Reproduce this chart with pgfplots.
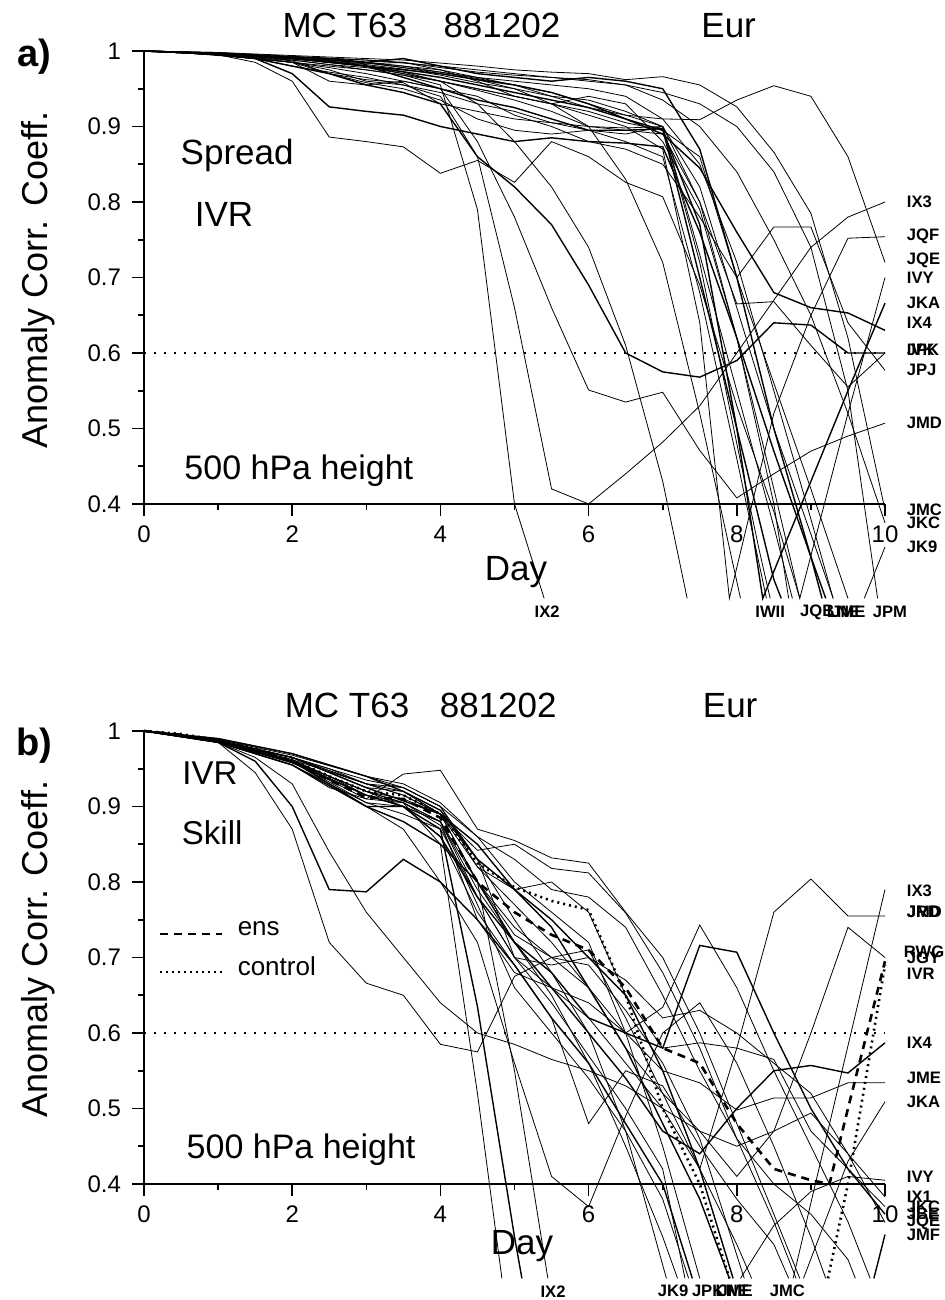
\documentclass[border=0pt]{standalone}
\usepackage{fontspec}
\setmainfont{Liberation Sans}
\usepackage{pgfplots}
\pgfplotsset{compat=1.18}
\newcommand\lf{\fontsize{8.3}{10}\selectfont\bfseries}
\pgfplotsset{
  spag/.style={
    scale only axis, width=370.5pt, height=226.5pt,
    xmin=0, xmax=10, ymin=0.4, ymax=1,
    clip=false, unbounded coords=jump,
    axis x line*=bottom, axis y line*=left,
    axis line style={line width=1pt},
    xtick={0,2,4,6,8,10}, xticklabels={0,2,4,6,8,10},
    minor xtick={1,3,5,7,9},
    ytick={0.4,0.5,0.6,0.7,0.8,0.9,1}, yticklabels={0.4,0.5,0.6,0.7,0.8,0.9,1},
    minor ytick={0.45,0.55,0.65,0.75,0.85,0.95},
    tick align=outside, major tick length=6pt, minor tick length=3pt,
    every tick/.style={black, line width=0.8pt},
    ticklabel style={font=\fontsize{12}{14}\selectfont},
    xticklabel style={yshift=-1.5pt},
    yticklabel style={xshift=-2pt},
    cycle list={{black, solid, mark=none, line width=0.7pt}},
  }
}
\begin{document}
\begin{tikzpicture}
\useasboundingbox (0,0) rectangle (472pt,650pt);
%================ panel a =================
\begin{axis}[spag, at={(72pt,398pt)}, anchor=south west]
\addplot coordinates {(0,1)(0.5,0.998)(1,0.995)(1.5,0.99)(2,0.985)(2.5,0.98)(3,0.975)(3.5,0.968)(4,0.955)(4.5,0.79)(5,0.40)(5.4,0.275)};
\addplot coordinates {(0,1)(0.5,0.998)(1,0.994)(1.5,0.99)(2,0.98)(2.5,0.972)(3,0.965)(3.5,0.955)(4,0.94)(4.5,0.86)(5,0.66)(5.5,0.42)(6,0.40)(6.5,0.44)(7,0.482)(7.5,0.53)(8,0.60)(8.5,0.67)(9,0.74)(9.5,0.78)(10,0.80)};
\addplot coordinates {(0,1)(0.5,0.998)(1,0.995)(1.5,0.99)(2,0.985)(2.5,0.978)(3,0.97)(3.5,0.96)(4,0.95)(4.5,0.88)(5,0.78)(5.5,0.66)(6,0.551)(6.5,0.535)(7,0.548)(7.5,0.471)(8,0.408)(8.5,0.44)(9,0.47)(9.5,0.49)(10,0.507)};
\addplot coordinates {(0,1)(0.5,0.998)(1,0.995)(1.5,0.99)(2,0.98)(2.5,0.97)(3,0.955)(3.5,0.945)(4,0.93)(4.5,0.86)(5,0.82)(5.5,0.77)(6,0.69)(6.5,0.60)(7,0.575)(7.5,0.568)(8,0.59)(8.5,0.64)(9,0.637)(9.5,0.60)(10,0.60)};
\addplot coordinates {(0,1)(0.5,0.998)(1,0.996)(1.5,0.993)(2,0.99)(2.5,0.985)(3,0.98)(3.5,0.972)(4,0.96)(4.5,0.93)(5,0.88)(5.5,0.82)(6,0.74)(6.5,0.61)(7,0.43)(7.33,0.275)};
\addplot coordinates {(0,1)(1,0.996)(2,0.99)(2.5,0.988)(3,0.985)(3.5,0.978)(4,0.97)(4.5,0.962)(5,0.95)(5.5,0.93)(6,0.90)(6.5,0.83)(7,0.72)(7.5,0.52)(7.77,0.40)(8.05,0.275)};
\addplot coordinates {(0,1)(0.5,0.998)(1,0.995)(1.5,0.985)(2,0.96)(2.5,0.886)(3,0.88)(3.5,0.873)(4,0.838)(4.5,0.855)(5,0.826)(5.5,0.88)(6,0.86)(6.5,0.826)(7,0.807)(7.5,0.69)(8,0.53)(8.5,0.39)(8.85,0.275)};
\addplot coordinates {(0,1)(0.5,0.998)(1,0.995)(1.5,0.99)(2,0.97)(2.5,0.926)(3,0.92)(3.5,0.915)(4,0.90)(4.5,0.89)(5,0.88)(5.5,0.885)(6,0.88)(6.5,0.878)(7,0.873)(7.5,0.76)(8,0.62)(8.5,0.47)(9,0.33)(9.2,0.275)};
\addplot coordinates {(0,1)(0.5,0.999)(1,0.997)(1.5,0.994)(2,0.99)(2.5,0.988)(3,0.985)(3.5,0.98)(4,0.972)(4.5,0.965)(5,0.955)(5.5,0.945)(6,0.93)(6.5,0.915)(7,0.91)(7.5,0.909)(8,0.935)(8.5,0.954)(9,0.94)(9.5,0.86)(10,0.72)};
\addplot coordinates {(0,1)(0.5,0.999)(1,0.998)(1.5,0.996)(2,0.994)(2.5,0.992)(3,0.99)(3.5,0.988)(4,0.984)(4.5,0.98)(5,0.975)(5.5,0.972)(6,0.97)(6.5,0.962)(7,0.966)(7.5,0.955)(8,0.926)(8.5,0.866)(9,0.785)(9.5,0.62)(10,0.392)};
\addplot coordinates {(0,1)(0.5,0.999)(1,0.997)(1.5,0.995)(2,0.992)(2.5,0.99)(3,0.988)(3.5,0.985)(4,0.978)(4.5,0.972)(5,0.968)(5.5,0.965)(6,0.962)(6.5,0.955)(7,0.935)(7.5,0.90)(8,0.84)(8.5,0.75)(9,0.65)(9.5,0.52)(10,0.375)};
\addplot coordinates {(0,1)(1,0.996)(1.5,0.993)(2,0.99)(2.5,0.985)(3,0.98)(3.5,0.975)(4,0.97)(4.5,0.962)(5,0.955)(5.5,0.945)(6,0.93)(6.5,0.91)(7,0.89)(7.5,0.845)(8,0.76)(8.5,0.68)(9,0.66)(9.5,0.653)(10,0.63)};
\addplot coordinates {(0,1)(1,0.996)(1.5,0.992)(2,0.988)(2.5,0.982)(3,0.975)(3.5,0.968)(4,0.96)(4.5,0.95)(5,0.94)(5.5,0.93)(6,0.92)(6.5,0.905)(7,0.895)(7.5,0.86)(8,0.70)(8.5,0.767)(9,0.767)(9.5,0.64)(10,0.577)};
\addplot coordinates {(0,1)(1,0.996)(2,0.988)(2.5,0.982)(3,0.978)(3.5,0.97)(4,0.96)(4.5,0.95)(5,0.94)(5.5,0.93)(6,0.915)(6.5,0.90)(7,0.87)(7.5,0.64)(7.9,0.275)(8.5,0.52)(9,0.65)(9.5,0.752)(10,0.754)};
\addplot coordinates {(0,1)(1,0.997)(2,0.99)(3,0.982)(3.5,0.976)(4,0.968)(4.5,0.958)(5,0.95)(5.5,0.94)(6,0.935)(6.5,0.92)(7,0.90)(7.5,0.80)(8,0.62)(8.5,0.42)(8.85,0.275)(9.5,0.52)(10,0.70)};
\addplot coordinates {(0,1)(1,0.996)(2,0.99)(3,0.98)(4,0.965)(4.5,0.955)(5,0.945)(5.5,0.935)(6,0.925)(6.5,0.91)(7,0.895)(7.5,0.77)(8,0.50)(8.35,0.275)(9,0.43)(9.5,0.55)(10,0.666)};
\addplot coordinates {(0,1)(1,0.997)(2,0.991)(3,0.984)(4,0.972)(5,0.955)(5.5,0.94)(6,0.925)(6.5,0.915)(7,0.90)(7.5,0.82)(8,0.66)(8.5,0.50)(9,0.36)(9.3,0.275)(9.5,nan)(9.72,0.275)(10,0.343)};
\addplot coordinates {(0,1)(1,0.998)(2,0.993)(3,0.988)(4,0.98)(5,0.97)(5.5,0.965)(6,0.96)(6.5,0.955)(7,0.945)(7.5,0.93)(8,0.90)(8.5,0.84)(9,0.74)(9.5,0.55)(9.9,0.275)};
\addplot coordinates {(0,1)(1,0.996)(2,0.99)(3,0.98)(3.5,0.97)(4,0.96)(4.5,0.948)(5,0.935)(5.5,0.92)(6,0.90)(6.5,0.895)(7,0.89)(7.5,0.80)(8,0.665)(8.5,0.668)(9,0.61)(9.5,0.555)(10,0.60)};
\addplot coordinates {(0,1)(1,0.996)(2,0.99)(2.5,0.986)(3,0.98)(3.5,0.965)(4,0.95)(4.5,0.935)(5,0.925)(5.5,0.91)(6,0.895)(6.5,0.895)(7,0.897)(7.5,0.70)(8,0.50)(8.5,0.30)(8.6,0.275)};
\addplot coordinates {(0,1)(1,0.995)(2,0.985)(2.5,0.975)(3,0.96)(3.5,0.955)(4,0.945)(4.5,0.93)(5,0.92)(5.5,0.905)(6,0.895)(6.5,0.88)(7,0.86)(7.5,0.68)(8,0.46)(8.4,0.275)};
\addplot coordinates {(0,1)(1,0.997)(2,0.992)(3,0.985)(3.5,0.98)(4,0.975)(4.5,0.965)(5,0.96)(5.5,0.955)(6,0.95)(6.5,0.94)(7,0.91)(7.5,0.85)(8,0.72)(8.5,0.55)(9,0.38)(9.3,0.275)};
\addplot coordinates {(0,1)(1,0.995)(2,0.985)(2.5,0.97)(3,0.958)(3.5,0.95)(4,0.935)(4.5,0.91)(5,0.895)(5.5,0.89)(6,0.895)(6.5,0.89)(7,0.90)(7.5,0.72)(8,0.48)(8.3,0.34)(8.45,0.275)};
\addplot coordinates {(0,1)(1,0.997)(2,0.992)(2.5,0.99)(3,0.985)(3.5,0.99)(4,0.98)(4.5,0.97)(5,0.965)(5.5,0.96)(6,0.965)(6.5,0.96)(7,0.95)(7.5,0.87)(8,0.70)(8.5,0.50)(9,0.33)(9.15,0.275)};
\addplot coordinates {(0,1)(1,0.995)(2,0.987)(2.5,0.97)(3,0.962)(3.5,0.958)(4,0.93)(4.5,0.92)(5,0.91)(5.5,0.905)(6,0.90)(6.5,0.898)(7,0.90)(7.5,0.73)(8,0.55)(8.5,0.37)(8.75,0.275)};
\addplot coordinates {(0,1)(1,0.996)(2,0.985)(2.5,0.96)(3,0.955)(3.5,0.96)(4,0.95)(4.5,0.94)(5,0.915)(5.5,0.90)(6,0.88)(6.5,0.87)(7,0.85)(7.5,0.78)(8,0.70)(8.5,0.56)(9,0.42)(9.5,0.275)};
\addplot coordinates {(0,1)(1,0.997)(2,0.99)(3,0.983)(3.5,0.985)(4,0.975)(4.5,0.96)(5,0.94)(5.5,0.93)(6,0.94)(6.5,0.93)(7,0.88)(7.5,0.79)(8,0.62)(8.5,0.40)(8.7,0.275)};
\addplot[line width=0.8pt, dash pattern=on 0.8pt off 4.2pt] coordinates {(0,0.6)(10,0.6)};
% texts
\node[font=\fontsize{17.5}{20}\selectfont] at (axis cs:2.71,1.034) {MC T63};
\node[font=\fontsize{17.5}{20}\selectfont] at (axis cs:4.83,1.034) {881202};
\node[font=\fontsize{17.5}{20}\selectfont] at (axis cs:7.89,1.034) {Eur};
\node[font=\fontsize{19}{22}\selectfont\bfseries] at (axis cs:-1.48,0.992) {a)};
\node[rotate=90, font=\fontsize{18}{20}\selectfont] at (axis cs:-1.43,0.697) {Anomaly Corr. Coeff.};
\node[anchor=west, font=\fontsize{17.5}{20}\selectfont] at (axis cs:0.40,0.862) {Spread};
\node[font=\fontsize{17.5}{20}\selectfont] at (axis cs:1.08,0.783) {IVR};
\node[font=\fontsize{17}{20}\selectfont] at (axis cs:2.09,0.444) {500 hPa height};
\node[font=\fontsize{17.5}{20}\selectfont] at (axis cs:5.02,0.310) {Day};
% right labels
\node[anchor=west, font=\lf] at (axis cs:10.2,0.800) {IX3};
\node[anchor=west, font=\lf] at (axis cs:10.2,0.754) {JQF};
\node[anchor=west, font=\lf] at (axis cs:10.2,0.723) {JQE};
\node[anchor=west, font=\lf] at (axis cs:10.2,0.700) {IVY};
\node[anchor=west, font=\lf] at (axis cs:10.2,0.666) {JKA};
\node[anchor=west, font=\lf] at (axis cs:10.2,0.640) {IX4};
\node[anchor=west, font=\lf] at (axis cs:10.2,0.604) {IVK};
\node[anchor=west, font=\lf] at (axis cs:10.2,0.604) {JPK};
\node[anchor=west, font=\lf] at (axis cs:10.2,0.577) {JPJ};
\node[anchor=west, font=\lf] at (axis cs:10.2,0.507) {JMD};
\node[anchor=west, font=\lf] at (axis cs:10.2,0.392) {JMC};
\node[anchor=west, font=\lf] at (axis cs:10.2,0.375) {JKC};
\node[anchor=west, font=\lf] at (axis cs:10.2,0.343) {JK9};
% bottom labels
\node[font=\lf] at (axis cs:5.44,0.257) {IX2};
\node[font=\lf] at (axis cs:8.45,0.257) {IWII};
\node[anchor=west, font=\lf] at (axis cs:8.76,0.257) {JQB};
\node[anchor=west, font=\lf] at (axis cs:9.12,0.257) {LNE};
\node[anchor=west, font=\lf] at (axis cs:9.18,0.257) {JME};
\node[anchor=west, font=\lf] at (axis cs:9.74,0.257) {JPM};
\end{axis}
%================ panel b =================
\begin{axis}[spag, at={(72pt,58pt)}, anchor=south west]
\addplot coordinates {(0,1)(0.5,0.995)(1,0.985)(1.5,0.97)(2,0.955)(2.5,0.925)(3,0.91)(3.5,0.943)(4,0.948)(4.5,0.87)(5,0.855)(5.5,0.832)(6,0.825)(6.5,0.76)(7,0.70)(7.5,0.60)(8,0.48)(8.5,0.36)(8.85,0.275)};
\addplot coordinates {(0,1)(0.5,0.995)(1,0.987)(1.5,0.975)(2,0.965)(2.5,0.95)(3,0.93)(3.5,0.915)(4,0.89)(4.5,0.842)(5,0.85)(5.5,0.818)(6,0.812)(6.5,0.759)(7,0.68)(7.5,0.58)(8,0.46)(8.5,0.35)(8.8,0.275)};
\addplot coordinates {(0,1)(0.5,0.995)(1,0.985)(1.5,0.945)(2,0.87)(2.5,0.72)(3,0.666)(3.5,0.65)(4,0.585)(4.5,0.575)(5,0.675)(5.5,0.70)(6,0.71)(6.5,0.62)(7,0.52)(7.5,0.42)(8,0.32)(8.2,0.275)};
\addplot coordinates {(0,1)(0.5,0.995)(1,0.985)(1.5,0.96)(2,0.90)(2.5,0.79)(3,0.787)(3.5,0.83)(4,0.80)(4.5,0.75)(5,0.69)(5.5,0.62)(6,0.56)(6.5,0.48)(7,0.40)(7.4,0.275)};
\addplot coordinates {(0,1)(1,0.985)(1.5,0.965)(2,0.93)(2.5,0.84)(3,0.76)(3.5,0.70)(4,0.64)(4.5,0.60)(5,0.585)(5.5,0.565)(6,0.55)(6.5,0.53)(7,0.50)(7.5,0.47)(8,0.45)(8.5,0.47)(9,0.494)(9.5,0.44)(10,0.383)};
\addplot coordinates {(0,1)(1,0.985)(2,0.955)(2.5,0.93)(3,0.905)(3.5,0.89)(4,0.87)(4.5,0.78)(5,0.70)(5.5,0.66)(6,0.62)(6.5,0.56)(7,0.50)(7.5,0.42)(8,0.58)(8.5,0.76)(9,0.804)(9.5,0.755)(10,0.755)};
\addplot coordinates {(0,1)(1,0.985)(2,0.96)(2.5,0.94)(3,0.915)(3.5,0.90)(4,0.88)(4.5,0.75)(5,0.68)(5.5,0.66)(6,0.64)(6.5,0.60)(7,0.634)(7.5,0.743)(8,0.66)(8.5,0.55)(9,0.45)(9.5,0.35)(9.8,0.275)};
\addplot coordinates {(0,1)(1,0.985)(2,0.96)(3,0.90)(3.5,0.88)(4,0.85)(4.5,0.80)(5,0.72)(5.5,0.68)(6,0.62)(6.5,0.60)(7,0.58)(7.5,0.716)(8,0.707)(8.5,0.60)(9,0.50)(9.5,0.42)(10,0.36)};
\addplot coordinates {(0,1)(1,0.987)(2,0.96)(3,0.92)(3.5,0.91)(4,0.89)(4.5,0.80)(5,0.74)(5.5,0.70)(6,0.66)(6.5,0.58)(7,0.52)(7.5,0.47)(8,0.41)(8.5,0.47)(9,0.60)(9.5,0.74)(10,0.70)};
\addplot coordinates {(0,1)(1,0.986)(2,0.96)(3,0.915)(3.5,0.905)(4,0.88)(4.5,0.78)(5,0.70)(5.5,0.64)(6,0.57)(6.5,0.50)(7,0.42)(7.3,0.275)(8,nan)(8.76,0.275)(9,0.375)(9.5,0.583)(10,0.79)};
\addplot coordinates {(0,1)(1,0.986)(2,0.965)(3,0.925)(3.5,0.92)(4,0.89)(4.5,0.82)(5,0.79)(5.5,0.80)(6,0.76)(6.5,0.65)(7,0.58)(7.5,0.587)(8,0.58)(8.5,0.565)(9,0.47)(9.5,0.42)(10,0.37)};
\addplot coordinates {(0,1)(1,0.985)(2,0.955)(3,0.90)(3.5,0.90)(4,0.86)(4.5,0.78)(5,0.72)(5.5,0.66)(6,0.60)(6.5,0.54)(7,0.47)(7.5,0.44)(8,0.50)(8.5,0.55)(9,0.557)(9.5,0.547)(10,0.587)};
\addplot coordinates {(0,1)(1,0.988)(2,0.965)(3,0.93)(3.5,0.925)(4,0.90)(4.5,0.82)(5,0.77)(5.5,0.72)(6,0.66)(6.5,0.60)(7,0.55)(7.5,0.534)(8,0.498)(8.5,0.514)(9,0.514)(9.5,0.534)(10,0.534)};
\addplot coordinates {(0,1)(1,0.985)(2,0.96)(3,0.91)(3.5,0.905)(4,0.875)(4.5,0.77)(5,0.66)(5.5,0.60)(6,0.54)(6.5,0.47)(7,0.38)(7.35,0.275)(8,nan)(8.9,0.275)(9.5,0.43)(10,0.509)};
\addplot coordinates {(0,1)(1,0.986)(2,0.96)(3,0.92)(4,0.88)(4.5,0.79)(5,0.72)(5.5,0.65)(6,0.56)(6.5,0.45)(7,0.33)(7.2,0.275)(7.5,nan)(8.05,0.275)(8.5,0.345)(9,0.39)(9.5,0.41)(10,0.405)};
\addplot coordinates {(0,1)(1,0.987)(2,0.965)(3,0.925)(4,0.89)(4.5,0.85)(5,0.79)(5.5,0.74)(6,0.66)(6.5,0.58)(7,0.48)(7.5,0.38)(7.9,0.275)(8.5,nan)(9.85,0.275)(10,0.333)};
\addplot coordinates {(0,1)(1,0.987)(2,0.962)(3,0.93)(3.5,0.92)(4,0.89)(4.5,0.83)(5,0.70)(5.5,0.69)(6,0.70)(6.5,0.67)(7,0.62)(7.5,0.63)(8,0.60)(8.5,0.56)(9,0.52)(9.5,0.44)(10,0.349)};
\addplot coordinates {(0,1)(1,0.988)(1.5,0.975)(2,0.962)(2.5,0.94)(3,0.92)(3.5,0.905)(4,0.88)(4.5,0.80)(5,0.55)(5.45,0.275)};
\addplot coordinates {(0,1)(1,0.987)(2,0.96)(3,0.92)(3.5,0.905)(4,0.85)(4.5,0.52)(4.83,0.275)};
\addplot coordinates {(0,1)(1,0.986)(2,0.958)(3,0.915)(3.5,0.90)(4,0.87)(4.5,0.635)(5,0.33)(5.1,0.275)};
\addplot coordinates {(0,1)(1,0.986)(2,0.955)(3,0.90)(3.5,0.87)(4,0.80)(4.5,0.72)(5,0.56)(5.5,0.41)(6,0.37)(6.5,0.49)(7,0.60)(7.5,0.64)(8,0.56)(8.5,0.45)(9,0.33)(9.2,0.275)};
\addplot coordinates {(0,1)(1,0.988)(2,0.965)(3,0.935)(3.5,0.925)(4,0.90)(4.5,0.83)(5,0.75)(5.5,0.68)(6,0.60)(6.5,0.47)(7.05,0.275)};
\addplot coordinates {(0,1)(1,0.989)(2,0.968)(3,0.94)(3.5,0.93)(4,0.905)(4.5,0.86)(5,0.80)(5.5,0.76)(6,0.72)(6.5,0.60)(7,0.45)(7.5,0.275)};
\addplot coordinates {(0,1)(1,0.99)(2,0.97)(2.5,0.955)(3,0.94)(3.5,0.92)(4,0.895)(4.5,0.83)(5,0.79)(5.5,0.75)(6,0.70)(6.5,0.65)(7,0.55)(7.5,0.42)(7.95,0.275)};
\addplot coordinates {(0,1)(1,0.988)(2,0.965)(3,0.93)(3.5,0.915)(4,0.89)(4.5,0.80)(5,0.73)(5.5,0.70)(6,0.69)(6.5,0.63)(7,0.56)(7.5,0.46)(8.1,0.275)};
\addplot coordinates {(0,1)(1,0.987)(2,0.96)(3,0.905)(3.5,0.90)(4,0.86)(4.5,0.76)(5,0.69)(5.5,0.62)(6,0.48)(6.5,0.55)(7,0.53)(7.5,0.45)(8,0.38)(8.5,0.32)(8.7,0.275)};
\addplot coordinates {(0,1)(1,0.99)(2,0.97)(3,0.94)(3.5,0.925)(4,0.90)(4.5,0.86)(5,0.83)(5.5,0.79)(6,0.78)(6.5,0.74)(7,0.65)(7.5,0.55)(8,0.46)(8.5,0.40)(9,0.36)(9.5,0.30)(9.6,0.275)};
% ens and control
\addplot[line width=1.3pt, dash pattern=on 4pt off 3pt] coordinates {(0,1)(0.5,0.995)(1,0.986)(1.5,0.975)(2,0.96)(2.5,0.935)(3,0.912)(3.5,0.91)(4,0.885)(4.5,0.80)(5,0.76)(5.5,0.73)(6,0.71)(6.5,0.66)(7,0.58)(7.5,0.56)(8,0.48)(8.5,0.42)(9,0.405)(9.25,0.40)(9.5,0.50)(10,0.695)};
\addplot[line width=1.3pt, dash pattern=on 1pt off 2pt] coordinates {(0,1)(0.5,0.996)(1,0.988)(1.5,0.977)(2,0.962)(2.5,0.94)(3,0.92)(3.5,0.915)(4,0.89)(4.5,0.825)(5,0.793)(5.5,0.775)(6,0.763)(6.5,0.65)(7,0.50)(7.5,0.40)(7.9,0.275)(8.5,nan)(9.23,0.275)(9.5,0.40)(10,0.69)};
\addplot[line width=0.8pt, dash pattern=on 0.8pt off 4.2pt] coordinates {(0,0.6)(10,0.6)};
% legend samples
\addplot[line width=1pt, dash pattern=on 4pt off 3pt] coordinates {(0.22,0.731)(1.05,0.731)};
\addplot[line width=1pt, dash pattern=on 1pt off 2pt] coordinates {(0.22,0.681)(1.05,0.681)};
\node[anchor=west, font=\fontsize{13}{15}\selectfont] at (axis cs:1.17,0.738) {ens};
\node[anchor=west, font=\fontsize{13}{15}\selectfont] at (axis cs:1.17,0.689) {control};
% texts
\node[font=\fontsize{17.5}{20}\selectfont] at (axis cs:2.74,1.034) {MC T63};
\node[font=\fontsize{17.5}{20}\selectfont] at (axis cs:4.78,1.034) {881202};
\node[font=\fontsize{17.5}{20}\selectfont] at (axis cs:7.91,1.034) {Eur};
\node[font=\fontsize{19}{22}\selectfont\bfseries] at (axis cs:-1.48,0.981) {b)};
\node[rotate=90, font=\fontsize{18}{20}\selectfont] at (axis cs:-1.43,0.711) {Anomaly Corr. Coeff.};
\node[font=\fontsize{16.5}{20}\selectfont] at (axis cs:0.89,0.944) {IVR};
\node[font=\fontsize{16.5}{20}\selectfont] at (axis cs:0.92,0.865) {Skill};
\node[font=\fontsize{17}{20}\selectfont] at (axis cs:2.12,0.445) {500 hPa height};
\node[font=\fontsize{17.5}{20}\selectfont] at (axis cs:5.10,0.318) {Day};
% right labels
\node[anchor=west, font=\lf] at (axis cs:10.2,0.789) {IX3};
\node[anchor=west, font=\lf] at (axis cs:10.2,0.760) {JMD};
\node[anchor=west, font=\lf] at (axis cs:10.2,0.760) {JRD};
\node[anchor=west, font=\lf] at (axis cs:10.16,0.708) {RWG};
\node[anchor=west, font=\lf] at (axis cs:10.2,0.700) {JGY};
\node[anchor=west, font=\lf] at (axis cs:10.2,0.679) {IVR};
\node[anchor=west, font=\lf] at (axis cs:10.2,0.587) {IX4};
\node[anchor=west, font=\lf] at (axis cs:10.2,0.540) {JME};
\node[anchor=west, font=\lf] at (axis cs:10.2,0.509) {JKA};
\node[anchor=west, font=\lf] at (axis cs:10.2,0.409) {IVY};
\node[anchor=west, font=\lf] at (axis cs:10.2,0.383) {IX1};
\node[anchor=west, font=\lf] at (axis cs:10.2,0.370) {JKC};
\node[anchor=west, font=\lf] at (axis cs:10.2,0.360) {JBE};
\node[anchor=west, font=\lf] at (axis cs:10.2,0.349) {JQE};
\node[anchor=west, font=\lf] at (axis cs:10.2,0.333) {JMF};
% bottom labels
\node[font=\lf] at (axis cs:5.52,0.258) {IX2};
\node[anchor=west, font=\lf] at (axis cs:6.84,0.258) {JK9};
\node[anchor=west, font=\lf] at (axis cs:7.30,0.258) {JPK};
\node[anchor=west, font=\lf] at (axis cs:7.62,0.258) {LNE};
\node[anchor=west, font=\lf] at (axis cs:7.66,0.258) {JME};
\node[anchor=west, font=\lf] at (axis cs:8.35,0.258) {JMC};
\end{axis}
\end{tikzpicture}
\end{document}
